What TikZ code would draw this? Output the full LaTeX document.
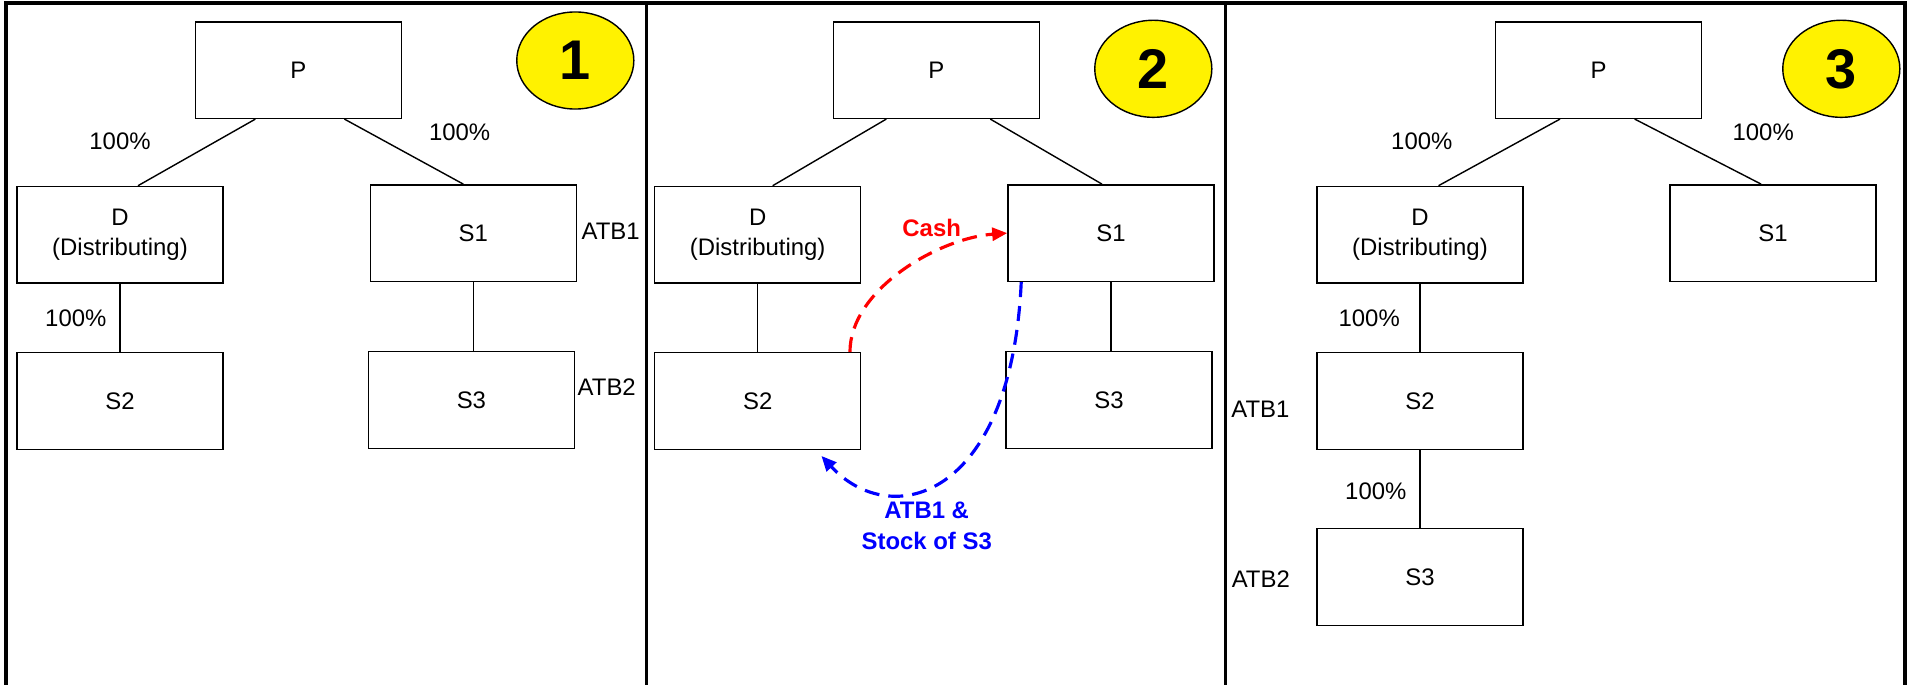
\documentclass[tikz,border=0pt]{standalone}
\usepackage{fontspec}
\setmainfont{Liberation Sans}
\usetikzlibrary{arrows.meta,calc,shapes.geometric}

\begin{document}
\begin{tikzpicture}
    [
      x = 0.01cm, y = -0.01cm,
      font = \fontsize{6.8}{8.7}\selectfont,
      box/.style = {draw, line width=0.4pt, minimum width=2.06cm, minimum height=0.965cm, align=center, inner sep=0pt},
      badge/.style = {draw, ellipse, fill=yellow, line width=0.4pt, minimum width=1.17cm, minimum height=0.97cm, inner sep=0pt, font=\fontsize{15.9}{16}\selectfont\bfseries},
      frame/.style = {line width=1pt},
      tie/.style = {line width=0.4pt},
      flow/.style = {line width=0.9pt, dash pattern=on 0.15cm off 0.09cm, -{Triangle[length=0.15cm,width=0.13cm]}},
      tag/.style = {font=\fontsize{6.8}{8.8}\selectfont\bfseries, align=center},
    ]
    \useasboundingbox (0,0) rectangle (1908,685);
    \draw[frame] (6,685) -- (6,3) -- (1905,3) -- (1905,685);
    \draw[frame] (646.5,3) -- (646.5,685);
    \draw[frame] (1225.5,3) -- (1225.5,685);

    \node[box] (pa) at (298.4,70.1) {P};
    \node[box] (da) at (120,234.7) {D\\(Distributing)};
    \node[box] (s1a) at (473.3,233.1) {S1};
    \node[box] (s2a) at (120,401) {S2};
    \node[box] (s3a) at (471.4,400) {S3};
    \node[badge] (na) at (575.3,60.5) {1};
    \draw[tie] ($(pa.south)+(-43,0)$) -- ($(da.north)+(18,0)$);
    \draw[tie] ($(pa.south)+(46,0)$) -- ($(s1a.north)+(-10,0)$);
    \draw[tie] (da) -- (s2a);
    \draw[tie] (s1a.south) -- (s1a.south |- s3a.north);
    \node (ka) at (120,141) {100\%};
    \node (la) at (459.6,132) {100\%};
    \node (ma) at (75.8,318) {100\%};
    \node[anchor=west, inner sep=0pt] (atb1a) at (581,231.6) {ATB1};
    \node[anchor=west, inner sep=0pt] (atb2a) at (577,387) {ATB2};

    \node[box] (pb) at (936.3,70.1) {P};
    \node[box] (db) at (757.7,234.7) {D\\(Distributing)};
    \node[box] (s1b) at (1111,233.1) {S1};
    \node[box] (s2b) at (757.7,401) {S2};
    \node[box] (s3b) at (1109.1,400) {S3};
    \node[badge] (nb) at (1153.3,68.8) {2};
    \draw[tie] ($(pb.south)+(-50,0)$) -- ($(db.north)+(15,0)$);
    \draw[tie] ($(pb.south)+(54,0)$) -- ($(s1b.north)+(-9,0)$);
    \draw[tie] (db) -- (s2b);
    \draw[tie] (s1b.south) -- (s1b.south |- s3b.north);
    \draw[flow, red] ($(s2b.north east)+(-11.5,0)$) .. controls +(0,-63) and +(-68,5) .. (s1b.west);
    \draw[flow, blue] ($(s1b.south west)+(14,0)$) .. controls +(-10,218) and +(69,75) .. ($(s2b.south east)+(-40,6)$);
    \node[tag, red] (cash) at (931.7,228.3) {Cash};
    \node[tag, blue] (stock) at (926.7,526) {ATB1 \&\\Stock of S3};

    \node[box] (pc) at (1598.7,70.1) {P};
    \node[box] (dc) at (1420,234.7) {D\\(Distributing)};
    \node[box] (s1c) at (1773.1,233.1) {S1};
    \node[box] (s2c) at (1420,401) {S2};
    \node[box] (s3c) at (1420,577) {S3};
    \node[badge] (nc) at (1841.3,68.8) {3};
    \draw[tie] ($(pc.south)+(-38.7,0)$) -- ($(dc.north)+(18.5,0)$);
    \draw[tie] ($(pc.south)+(36,0)$) -- ($(s1c.north)+(-12,0)$);
    \draw[tie] (dc) -- (s2c);
    \draw[tie] (s2c) -- (s3c);
    \node (kc) at (1421.8,141) {100\%};
    \node (lc) at (1763.2,132) {100\%};
    \node (mc) at (1369.2,318) {100\%};
    \node (oc) at (1375.8,491.5) {100\%};
    \node (atb1c) at (1260.4,409.4) {ATB1};
    \node (atb2c) at (1260.8,579) {ATB2};
\end{tikzpicture}
\end{document}
